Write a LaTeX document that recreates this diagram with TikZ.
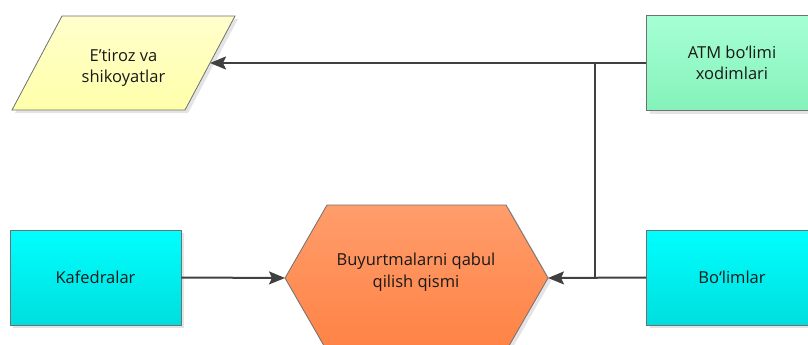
\documentclass[tikz,border=0pt]{standalone}
\usepackage{fontspec}
\setmainfont{Open Sans}
\usetikzlibrary{arrows.meta,shadows}
\definecolor{lineC}{HTML}{404040}
\definecolor{edgeC}{HTML}{707070}
\definecolor{yelT}{HTML}{FFFFCC}
\definecolor{yelB}{HTML}{FFFFAA}
\definecolor{grnT}{HTML}{A6FFD4}
\definecolor{grnB}{HTML}{84F2BA}
\definecolor{cyaT}{HTML}{00FFFF}
\definecolor{cyaB}{HTML}{00DEDE}
\definecolor{orgT}{HTML}{FF9D6C}
\definecolor{orgB}{HTML}{FF8244}
\definecolor{shadC}{HTML}{E4E4E4}
\tikzset{
  lbl/.style={font=\fontsize{16.5}{21.5}\selectfont, align=center, text=black!90},
  boxnode/.style={draw=edgeC, line width=0.8pt, minimum width=171pt, minimum height=95pt,
    lbl, drop shadow={shadow xshift=3pt, shadow yshift=-3pt, fill=shadC, opacity=1}},
  conn/.style={draw=lineC, line width=2pt},
  arr/.style={conn, -{Stealth[length=16pt,width=13pt,inset=3pt]}},
  shp/.style={draw=edgeC, line width=0.8pt}
}
\begin{document}
\begin{tikzpicture}[x=1pt,y=-1pt]
\useasboundingbox (0,0) rectangle (808,345);
\clip (0,0) rectangle (808,345);
% parallelogram
\fill[shadC] (65,19) -- (238,19) -- (188,113) -- (15,113) -- cycle;
\shade[shp, top color=yelT, bottom color=yelB] (62,16) -- (235,16) -- (185,110) -- (12,110) -- cycle;
\node[lbl] (etir) at (123.5,68) {E’tiroz va\\shikoyatlar};
\coordinate (etirE) at (210,63);
% hexagon
\fill[shadC] (330,208) -- (509,208) -- (551,281) -- (509,354) -- (330,354) -- (288,281) -- cycle;
\shade[shp, top color=orgT, bottom color=orgB] (327,205) -- (506,205) -- (548,278) -- (506,351) -- (327,351) -- (285,278) -- cycle;
\node[lbl] (hex) at (416,272) {Buyurtmalarni qabul\\qilish qismi};
\coordinate (hexW) at (285,278);
\coordinate (hexE) at (548,278);
% boxes
\node[boxnode, top color=grnT, bottom color=grnB] (atm) at (732,63) {ATM bo‘limi\\xodimlari};
\node[boxnode, top color=cyaT, bottom color=cyaB] (kaf) at (95.5,277.5) {Kafedralar};
\node[boxnode, top color=cyaT, bottom color=cyaB] (bol) at (732,277.5) {Bo‘limlar};
% junction
\coordinate (j1) at (595,63);
\coordinate (j2) at (595,278);
% connectors
\draw[conn] (j1) -- (j2);
\draw[arr] (atm.west) -- (etirE);
\draw[arr] (bol.west) -- (hexE);
\draw[arr] (kaf.east) -- (hexW);
\end{tikzpicture}
\end{document}
